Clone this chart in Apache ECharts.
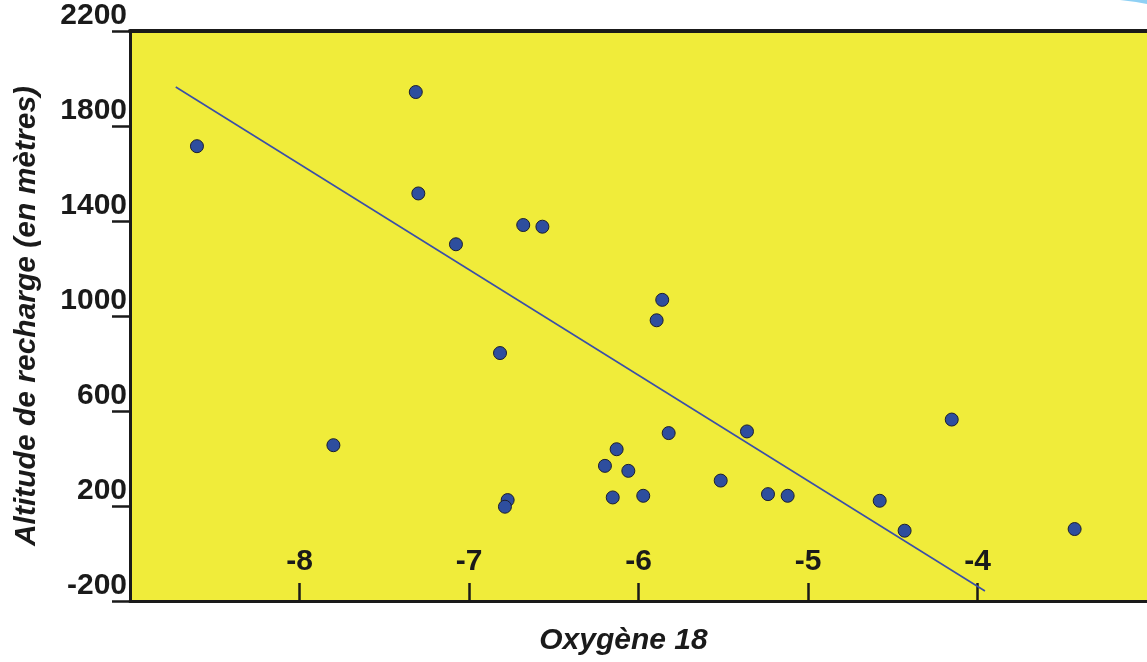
<!DOCTYPE html>
<html>
<head>
<meta charset="utf-8">
<script src="https://cdn.jsdelivr.net/npm/echarts@6/dist/echarts.min.js"></script>
<style>
html,body{margin:0;padding:0;background:#fff;}
#chart{width:1147px;height:662px;}
</style>
</head>
<body>
<div id="chart"></div>
<script>
// Data
var oxygen18 = [-8.605, -7.314, -7.299, -7.077, -6.680, -6.567, -5.860, -5.893, -6.817, -7.800,
                -6.129, -6.198, -6.060, -5.822, -5.360, -5.515, -6.152, -5.972, -6.772, -6.788,
                -5.236, -5.120, -4.152, -4.577, -4.430, -3.427];
var altitude = [1715, 1943, 1516, 1302, 1383, 1376, 1068, 982, 844, 456,
                439, 369, 348, 507, 514, 307, 236, 243, 225, 197,
                250, 243, 564, 222, 96, 103];
var fitX = [-8.730, -3.956];
var fitY = [1964, -158];
var xTickValues = [-8, -7, -6, -5, -4];
var xName = 'Oxygène 18';
var yName = 'Altitude de recharge (en mètres)';

var points = oxygen18.map(function (x, i) { return [x, altitude[i]]; });
var fitLine = fitX.map(function (x, i) { return [x, fitY[i]]; });

var FONT = '"Liberation Sans", Arial, sans-serif';
var chart = echarts.init(document.getElementById('chart'), null, {renderer: 'canvas'});
chart.setOption({
  animation: false,
  backgroundColor: '#ffffff',
  grid: {
    left: 130, right: 0, top: 31, bottom: 61,
    containLabel: false, outerBoundsMode: 'none',
    show: true, backgroundColor: '#F0EC3A', borderWidth: 0
  },
  xAxis: [{
    type: 'value', min: -9, max: -3, interval: 1, position: 'bottom',
    name: xName, nameLocation: 'middle', nameGap: 25,
    nameTextStyle: {fontFamily: FONT, fontSize: 30, fontWeight: 'bold', fontStyle: 'italic', color: '#1a1a1a', padding: [0, 30, 0, 0]},
    axisLine: {show: true, onZero: false, lineStyle: {color: '#1a1a1a', width: 3}},
    axisTick: {show: true, inside: true, length: 18, lineStyle: {color: '#1a1a1a', width: 2.5}, customValues: xTickValues},
    axisLabel: {show: true, inside: true, margin: 24, fontFamily: FONT, fontSize: 30, fontWeight: 'bold', color: '#1a1a1a', customValues: xTickValues,
      formatter: function (v) { return String(v); }},
    splitLine: {show: false}
  }, {
    type: 'value', min: -9, max: -3, position: 'top',
    axisLine: {show: true, onZero: false, lineStyle: {color: '#1a1a1a', width: 4}},
    axisTick: {show: false}, axisLabel: {show: false}, splitLine: {show: false}
  }],
  yAxis: {
    type: 'value', min: -200, max: 2200, interval: 400,
    name: yName, nameLocation: 'middle', nameGap: 88,
    nameTextStyle: {fontFamily: FONT, fontSize: 30, fontWeight: 'bold', fontStyle: 'italic', color: '#1a1a1a'},
    axisLine: {show: true, onZero: false, lineStyle: {color: '#1a1a1a', width: 3}},
    axisTick: {show: true, inside: false, length: 18, lineStyle: {color: '#1a1a1a', width: 2.5}},
    axisLabel: {show: true, margin: 3, verticalAlign: 'bottom', fontFamily: FONT, fontSize: 30, fontWeight: 'bold', color: '#1a1a1a',
      formatter: function (v) { return String(v); }},
    splitLine: {show: false}
  },
  series: [{
    type: 'line', data: fitLine, xAxisIndex: 0,
    symbol: 'none', lineStyle: {color: '#3a4fa8', width: 1.6}, z: 2
  }, {
    type: 'scatter', data: points, xAxisIndex: 0,
    symbol: 'circle', symbolSize: 13,
    itemStyle: {color: '#2e4e9e', borderColor: '#1c1f2e', borderWidth: 1, opacity: 1}, z: 3
  }],
  graphic: [{
    type: 'polygon', silent: true,
    shape: {points: [[1120, 0], [1147, 0], [1147, 4], [1136, 2]]},
    style: {fill: '#8fd0f4'}
  }]
});
</script>
</body>
</html>
